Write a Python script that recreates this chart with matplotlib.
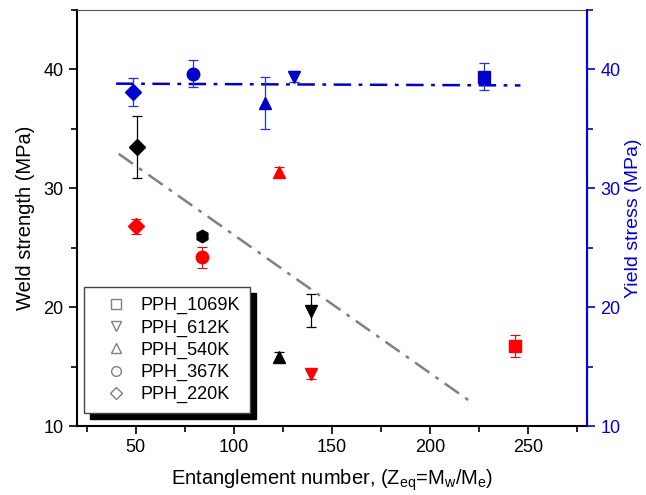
import matplotlib.pyplot as plt
from matplotlib.lines import Line2D
from matplotlib.patches import Rectangle
from matplotlib.ticker import MultipleLocator

plt.rcParams['font.family'] = ['Liberation Sans', 'DejaVu Sans']

# grades shown in the legend
grades = ['PPH_1069K', 'PPH_612K', 'PPH_540K', 'PPH_367K', 'PPH_220K']
markers = ['s', 'v', '^', 'o', 'D']

# weld strength, black set (no 1069K point)
black_x = [139.4, 123, 84, 50.5]
black_y = [19.7, 15.8, 26.0, 33.5]
black_err = [1.4, 0.4, 0.3, 2.6]
black_mk = ['v', '^', 'h', 'D']

# weld strength, red set
red_x = [243.4, 139.4, 123, 84, 50]
red_y = [16.75, 14.4, 31.4, 24.2, 26.8]
red_err = [0.9, 0.4, 0.4, 0.9, 0.6]

# yield stress (right axis)
blue_x = [227.6, 130.6, 115.8, 79, 48.5]
blue_y = [39.4, 39.4, 37.2, 39.65, 38.1]
blue_err = [1.1, 0.5, 2.2, 1.1, 1.2]

# trend lines
trend_x = [41.3, 222.4]
trend_y = [32.9, 11.85]
flat_x = [40, 246]
flat_y = [38.8, 38.65]

fig = plt.figure(figsize=(6.46, 4.95), dpi=100)
ax = fig.add_axes([0.119, 0.139, 0.79, 0.841])
ax2 = ax.twinx()

for x, y, e, m in zip(black_x, black_y, black_err, black_mk):
    ax.errorbar(x, y, yerr=e, fmt=m, color='black', ms=9 if m != 'D' else 8,
                capsize=3.5, elinewidth=0.9, capthick=0.9, zorder=4)
for x, y, e, m in zip(red_x, red_y, red_err, markers):
    ax.errorbar(x, y, yerr=e, fmt=m, color='red', ms=9 if m != 'D' else 8,
                capsize=3.5, elinewidth=0.8, capthick=0.8, zorder=4)
ax.plot(trend_x, trend_y, color='gray', lw=1.8, dashes=[7, 3, 1.5, 3])

for x, y, e, m in zip(blue_x, blue_y, blue_err, markers):
    ax2.errorbar(x, y, yerr=e, fmt=m, color='#0000cc', ecolor='#2233dd',
                 ms=9 if m != 'D' else 8, capsize=3.5, elinewidth=0.9,
                 capthick=0.9, zorder=4)
ax2.plot(flat_x, flat_y, color='#0000cc', lw=1.8, dashes=[7, 3, 1.5, 3])

ax.set_xlim(20, 280)
ax.set_ylim(10, 45)
ax2.set_ylim(10, 45)
ax.xaxis.set_major_locator(MultipleLocator(50))
ax.xaxis.set_minor_locator(MultipleLocator(25))
ax.yaxis.set_major_locator(MultipleLocator(10))
ax.yaxis.set_minor_locator(MultipleLocator(5))
ax2.yaxis.set_major_locator(MultipleLocator(10))
ax2.yaxis.set_minor_locator(MultipleLocator(5))

ax.tick_params(which='both', direction='out', labelsize=13, width=1.2)
ax.tick_params(which='major', length=6)
ax.tick_params(which='minor', length=4)
ax2.tick_params(which='both', direction='out', labelsize=13, width=1.2,
                colors='#0000dd')
ax2.tick_params(which='major', length=6)
ax2.tick_params(which='minor', length=4)

for s in ['left', 'bottom']:
    ax.spines[s].set_linewidth(1.5)
ax.spines['top'].set_color('#555555')
ax2.spines['top'].set_visible(False)
ax2.spines['left'].set_visible(False)
ax2.spines['bottom'].set_visible(False)
ax2.spines['right'].set_color('#0000dd')
ax2.spines['right'].set_linewidth(1.5)

ax.set_xlabel('Entanglement number, (Z$_{\\mathregular{eq}}$=M$_{\\mathregular{w}}$/M$_{\\mathregular{e}}$)',
              fontsize=14.5, labelpad=8)
ax.set_ylabel('Weld strength (MPa)', fontsize=14.5, labelpad=6)
ax2.set_ylabel('Yield stress (MPa)', fontsize=14, color='#0000dd', labelpad=3)

handles = [Line2D([], [], ls='none', marker=m, mfc='none', mec='gray',
                  ms=7 if m != 'D' else 6.5, mew=1) for m in markers]
leg = ax.legend(handles, grades, loc='lower left', bbox_to_anchor=(0.014, 0.031),
                borderaxespad=0, fontsize=13, frameon=True, fancybox=False,
                framealpha=1, edgecolor='#444444', handlelength=2.4,
                handletextpad=0.2, labelspacing=0.28, borderpad=0.55)
leg.get_frame().set_linewidth(1.0)
leg.set_zorder(10)

# black drop shadow behind the legend box
fig.canvas.draw()
bb = leg.get_window_extent().transformed(ax.transAxes.inverted())
ax.add_patch(Rectangle((bb.x0 + 6 / 510, bb.y0 - 6 / 416), bb.width, bb.height,
                       transform=ax.transAxes, color='black', zorder=9,
                       clip_on=False))

fig.savefig('out.png', dpi=100)
